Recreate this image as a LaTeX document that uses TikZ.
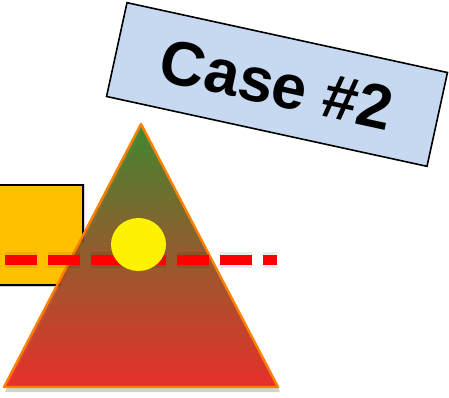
\documentclass[tikz,border=0pt]{standalone}
\usepackage{fontspec}
\setmainfont{Liberation Sans}
\begin{document}
\begin{tikzpicture}[x=1pt,y=-1pt,
  casebox/.style={draw=black,line width=1.6pt,fill=caseblue,rotate=-12.3,
    minimum width=328pt,minimum height=96pt,inner sep=0pt,
    font=\bfseries\fontsize{62.5}{72}\selectfont},
  goldbox/.style={draw=black,line width=1.4pt,fill=gold},
  dashline/.style={line width=10pt,dash pattern=on 32pt off 11pt,line cap=butt}]
\definecolor{caseblue}{RGB}{198,217,240}
\definecolor{gold}{RGB}{255,192,0}
\definecolor{trigreen}{RGB}{40,122,20}
\definecolor{trired}{RGB}{236,20,15}
\definecolor{triorange}{RGB}{255,128,0}
\useasboundingbox (0,0) rectangle (449,397);
% square
\draw[gray!35,line width=3pt] (-3,185) rectangle (83,285);
\draw[goldbox] (-3,185) rectangle (83,285);
% triangle shadow
\fill[black!18] (142,129) -- (280,392) -- (5,392) -- cycle;
% triangle
\coordinate (apex) at (141,124);
\coordinate (bl) at (4,387);
\coordinate (br) at (278,387);
\begin{scope}[opacity=0.85]
\shade[top color=trigreen,bottom color=trired] (apex) -- (br) -- (bl) -- cycle;
\end{scope}
\draw[triorange,line width=2.4pt,line join=round] (apex) -- (br) -- (bl) -- cycle;
% dashed line with shadow
\coordinate (d1) at (5,259.5);
\coordinate (d2) at (277,259.5);
\begin{scope}[shift={(3,6)}]
\draw[dashline,black,opacity=0.08,line width=16pt] (d1) -- (d2);
\draw[dashline,black,opacity=0.12] (d1) -- (d2);
\end{scope}
\draw[dashline,red] (d1) -- (d2);
% yellow circle
\fill[yellow] (138.5,244.5) ellipse (27.5pt and 26.5pt);
% case label
\node[casebox] (case) at (277,84.5) {Case \#2};
\end{tikzpicture}
\end{document}
